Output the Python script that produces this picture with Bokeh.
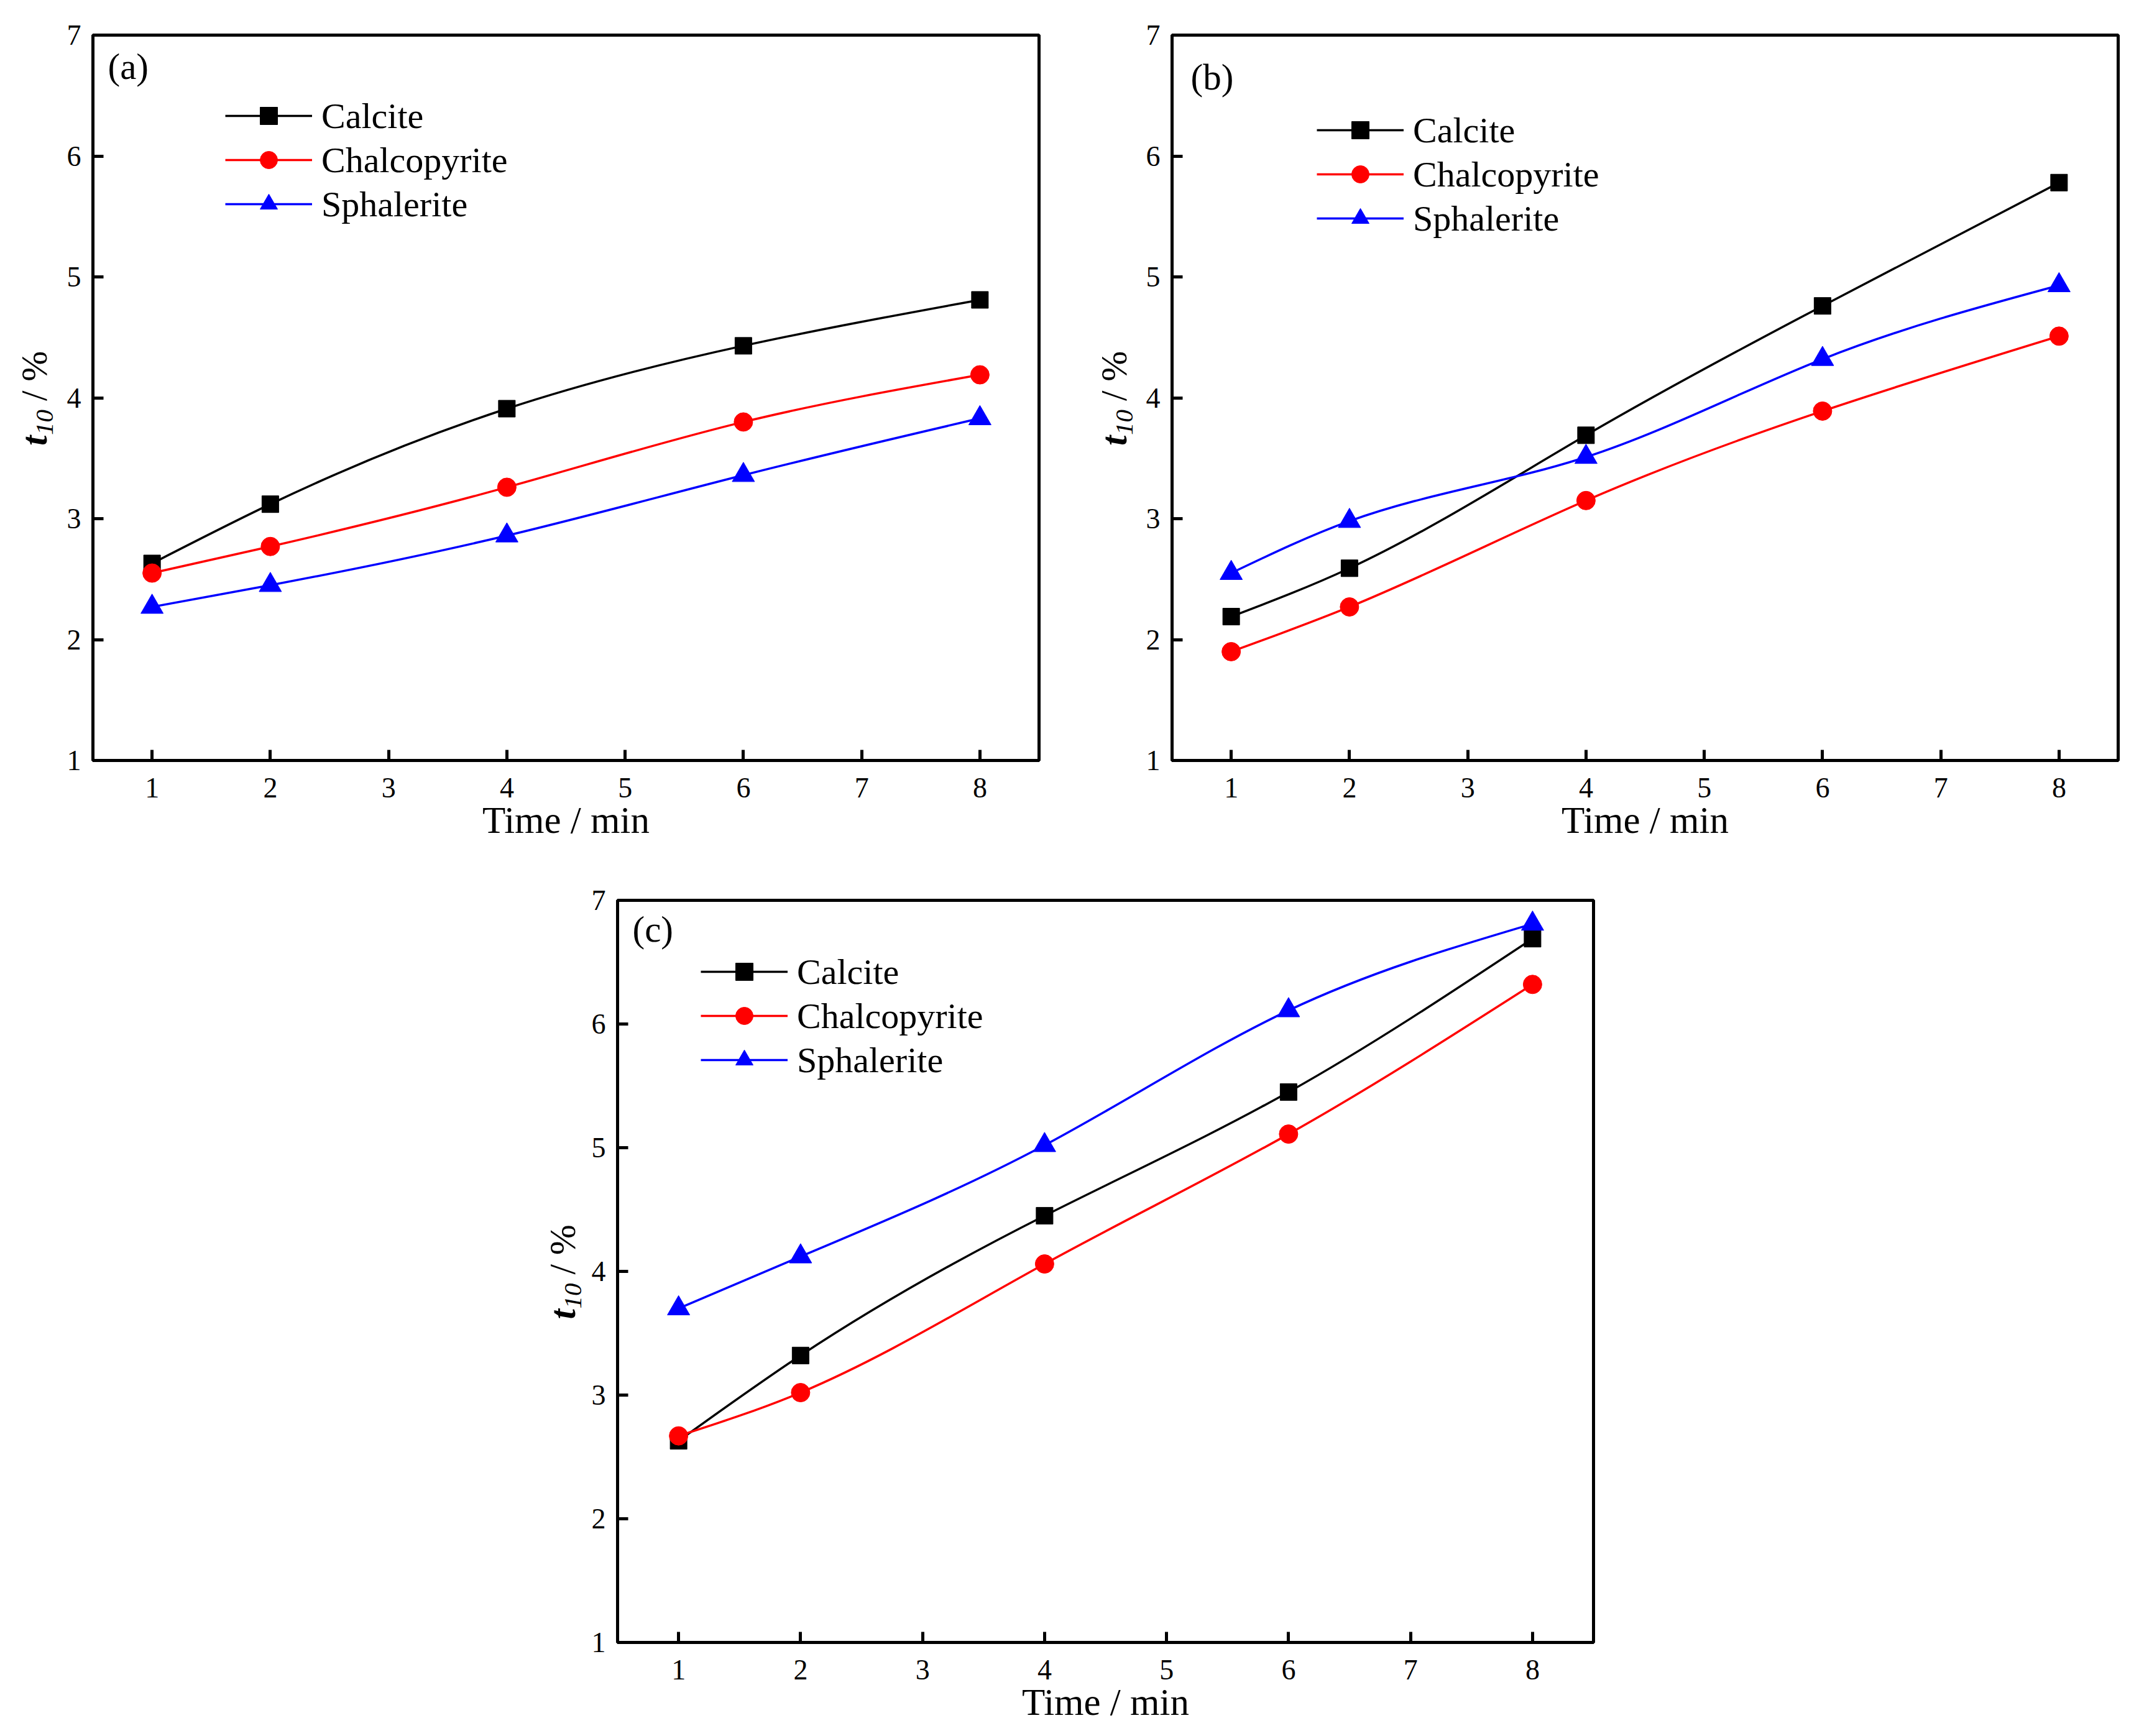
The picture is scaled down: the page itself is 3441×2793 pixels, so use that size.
import numpy as np
from bokeh.plotting import figure
from bokeh.models import Label, Legend, LegendItem, Spacer, ColumnDataSource, FixedTicker, Range1d
from bokeh.layouts import column, row
from bokeh.embed import file_html
from bokeh.resources import INLINE

# ---------------- data ----------------
time_min = [1, 2, 4, 6, 8]
x_ticks = [1, 2, 3, 4, 5, 6, 7, 8]
y_ticks = [1, 2, 3, 4, 5, 6, 7]
series_names = ["Calcite", "Chalcopyrite", "Sphalerite"]

a_calcite = [2.63, 3.12, 3.91, 4.43, 4.81]
a_chalcopyrite = [2.55, 2.77, 3.26, 3.80, 4.19]
a_sphalerite = [2.27, 2.45, 2.86, 3.36, 3.83]

b_calcite = [2.19, 2.59, 3.69, 4.76, 5.78]
b_chalcopyrite = [1.90, 2.27, 3.15, 3.89, 4.51]
b_sphalerite = [2.55, 2.98, 3.51, 4.32, 4.93]

c_calcite = [2.63, 3.32, 4.45, 5.45, 6.69]
c_chalcopyrite = [2.67, 3.02, 4.06, 5.11, 6.32]
c_sphalerite = [3.70, 4.12, 5.02, 6.11, 6.81]

FONT = "Liberation Serif"
COLORS = ["#000000", "#ff0000", "#0000ff"]
MARKERS = [("square", 27), ("circle", 30), ("triangle", 36)]


def spline_bezier(xs, ys):
    """Natural cubic spline through the data, expressed as cubic Bezier segments."""
    x = np.asarray(xs, float)
    y = np.asarray(ys, float)
    n = len(x)
    h = np.diff(x)
    A = np.zeros((n, n))
    r = np.zeros(n)
    A[0, 0] = 1.0
    A[-1, -1] = 1.0
    for i in range(1, n - 1):
        A[i, i - 1] = h[i - 1]
        A[i, i] = 2 * (h[i - 1] + h[i])
        A[i, i + 1] = h[i]
        r[i] = 6 * ((y[i + 1] - y[i]) / h[i] - (y[i] - y[i - 1]) / h[i - 1])
    M = np.linalg.solve(A, r)
    s = np.diff(y) / h
    d0 = s - h * (2 * M[:-1] + M[1:]) / 6
    d1 = s + h * (M[:-1] + 2 * M[1:]) / 6
    return dict(x0=x[:-1], y0=y[:-1], x1=x[1:], y1=y[1:],
                cx0=x[:-1] + h / 3, cy0=y[:-1] + d0 * h / 3,
                cx1=x[1:] - h / 3, cy1=y[1:] - d1 * h / 3)


def make_panel(tag, data, fw, fh, bl, br, bt, bb, legend_xy, tag_xy):
    p = figure(width=bl + fw + br, height=bt + fh + bb,
               min_border_left=bl, min_border_right=br,
               min_border_top=bt, min_border_bottom=bb,
               x_range=Range1d(0.5, 8.5), y_range=Range1d(1, 7),
               output_backend="svg", toolbar_location=None, tools="")
    p.background_fill_color = "white"
    p.border_fill_color = "white"
    p.outline_line_color = "black"
    p.outline_line_width = 5
    p.xgrid.visible = False
    p.ygrid.visible = False

    for ax in (p.xaxis[0], p.yaxis[0]):
        ax.axis_line_width = 5
        ax.axis_line_color = "black"
        ax.major_tick_in = 17
        ax.major_tick_out = 0
        ax.major_tick_line_width = 5
        ax.major_tick_line_color = "black"
        ax.minor_tick_line_color = None
        ax.major_label_text_font = FONT
        ax.major_label_text_font_size = "46px"
        ax.major_label_text_color = "black"
    p.xaxis.ticker = FixedTicker(ticks=x_ticks)
    p.yaxis.ticker = FixedTicker(ticks=y_ticks)
    p.xaxis.major_label_standoff = 28
    p.yaxis.major_label_standoff = 19
    p.xaxis.axis_label = "Time / min"
    p.xaxis.axis_label_text_font = FONT
    p.xaxis.axis_label_text_font_size = "61px"
    p.xaxis.axis_label_text_font_style = "normal"
    p.xaxis.axis_label_text_color = "black"
    p.xaxis.axis_label_standoff = 0

    items = []
    for name, ys, color, (marker, size) in zip(series_names, data, COLORS, MARKERS):
        src = ColumnDataSource(spline_bezier(time_min, ys))
        lr = p.bezier(x0="x0", y0="y0", x1="x1", y1="y1", cx0="cx0", cy0="cy0",
                      cx1="cx1", cy1="cy1", source=src, line_color=color, line_width=3.5)
        sr = p.scatter(time_min, ys, marker=marker, size=size, fill_color=color,
                       line_color=color, line_width=1)
        items.append(LegendItem(label=name, renderers=[lr, sr]))

    legend = Legend(items=items, location=legend_xy, padding=0, margin=0, spacing=1,
                    glyph_width=140, glyph_height=70, label_standoff=15,
                    label_text_font=FONT, label_text_font_size="58px",
                    label_text_color="black", border_line_color=None,
                    background_fill_alpha=0, inactive_fill_alpha=0)
    p.add_layout(legend)

    p.add_layout(Label(x=tag_xy[0], y=tag_xy[1], x_units="screen", y_units="screen",
                       text=tag, text_font=FONT, text_font_size="59px",
                       text_color="black", text_align="left", text_baseline="alphabetic"))
    return p


def make_ylabel(width, bt, fh, bb, base_x):
    """Narrow blank strip (same vertical borders as its panel) holding the rotated title t10 / %."""
    q = figure(width=width, height=bt + fh + bb,
               min_border_left=0, min_border_right=0,
               min_border_top=bt, min_border_bottom=bb,
               x_range=Range1d(0, width), y_range=Range1d(0, fh),
               x_axis_location=None, y_axis_location=None,
               output_backend="svg", toolbar_location=None, tools="")
    q.outline_line_color = None
    q.background_fill_color = "white"
    q.border_fill_color = "white"
    q.xgrid.visible = False
    q.ygrid.visible = False
    y0 = fh / 2 - 77
    q.add_layout(Label(x=base_x, y=y0, x_units="screen", y_units="screen", angle=np.pi / 2,
                       text="t", text_font=FONT, text_font_size="59px", text_font_style="bold italic",
                       text_color="black", text_align="left", text_baseline="alphabetic"))
    q.add_layout(Label(x=base_x + 17, y=y0 + 17, x_units="screen", y_units="screen", angle=np.pi / 2,
                       text="10", text_font=FONT, text_font_size="41px", text_font_style="italic",
                       text_color="black", text_align="left", text_baseline="alphabetic"))
    q.add_layout(Label(x=base_x, y=y0 + 17 + 41 + 14, x_units="screen", y_units="screen", angle=np.pi / 2,
                       text="/ %", text_font=FONT, text_font_size="59px", text_font_style="normal",
                       text_color="black", text_align="left", text_baseline="alphabetic"))
    return q


pa = make_panel("(a)", [a_calcite, a_chalcopyrite, a_sphalerite],
                1522, 1167, 53, 40, 56, 140, (213, 860), (24, 1117))
pb = make_panel("(b)", [b_calcite, b_chalcopyrite, b_sphalerite],
                1522, 1167, 52, 20, 56, 140, (233, 837), (30, 1100))
pc = make_panel("(c)", [c_calcite, c_chalcopyrite, c_sphalerite],
                1570, 1194, 50, 40, 85, 140, (134, 902), (24, 1148))

ya = make_ylabel(96, 56, 1167, 140, 54)
yb = make_ylabel(122, 56, 1167, 140, 80)
yc = make_ylabel(93, 85, 1194, 140, 54)

layout = column(row(ya, pa, yb, pb), row(Spacer(width=850, height=10), yc, pc))

open("out.html", "w").write(file_html(layout, INLINE))
